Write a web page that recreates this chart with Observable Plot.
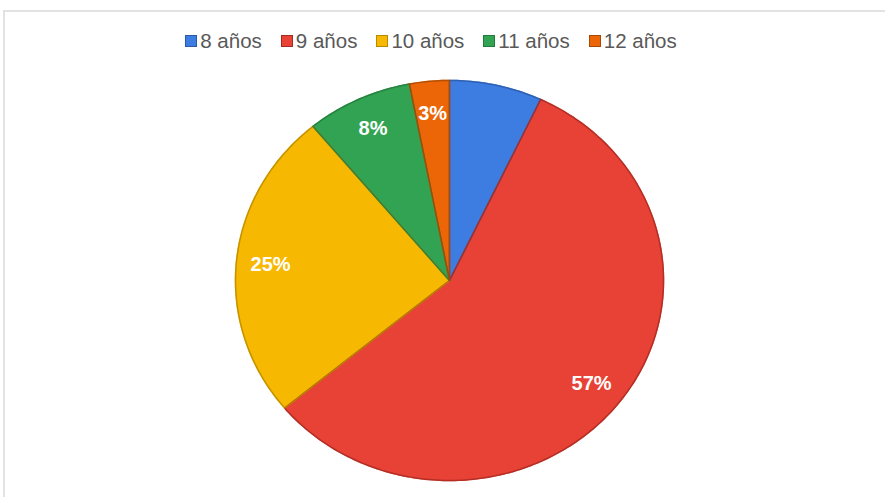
<!DOCTYPE html>
<html>
<head>
<meta charset="utf-8">
<script src="https://cdn.jsdelivr.net/npm/d3@7"></script>
<script src="https://cdn.jsdelivr.net/npm/@observablehq/plot@0.6"></script>
<style>
  html, body { margin: 0; padding: 0; background: #fff; overflow: hidden; }
  body { width: 885px; height: 497px; position: relative; font-family: "Liberation Sans", Arial, sans-serif; }
  #frame { position: absolute; left: 3px; top: 10px; width: 1000px; height: 1000px; border-top: 2px solid #e2e2e2; border-left: 2px solid #e2e2e2; }
  #legend { position: absolute; left: 0; top: 30px; width: 862px; height: 22px; display: flex; justify-content: center; align-items: center; font-size: 20.5px; color: #595959; }
  .item { display: flex; align-items: center; margin: 0 9.5px; }
  .sw { width: 10px; height: 10px; border: 1px solid; margin-right: 3px; }
  #chart { position: absolute; left: 0; top: 62px; }
</style>
</head>
<body>
<div id="frame"></div>
<div id="legend"></div>
<div id="chart"></div>
<script>
const categories = ["8 años", "9 años", "10 años", "11 años", "12 años"];
const values = [7, 57, 25, 8, 3];
const labels = ["", "57%", "25%", "8%", "3%"];
const colors = ["#3d7ce0", "#e84236", "#f6b800", "#32a352", "#ec6608"];
const edgeColors = ["#2a5aa8", "#a52a22", "#b88a00", "#237a3c", "#a84804"];

// legend
const leg = document.getElementById("legend");
categories.forEach((c, i) => {
  const it = document.createElement("div");
  it.className = "item";
  const sw = document.createElement("div");
  sw.className = "sw";
  sw.style.background = colors[i];
  sw.style.borderColor = edgeColors[i];
  const t = document.createElement("span");
  t.textContent = c;
  it.appendChild(sw); it.appendChild(t);
  leg.appendChild(it);
});

// pie geometry from data
const total = d3.sum(values);
const points = [];
const labelData = [];
let acc = 0;
categories.forEach((c, i) => {
  const a0 = acc / total, a1 = (acc + values[i]) / total;
  acc += values[i];
  points.push({cat: c, x: 0, y: 0});
  const n = Math.max(2, Math.ceil((a1 - a0) * 360));
  for (let k = 0; k <= n; k++) {
    const t = (a0 + (a1 - a0) * k / n) * 2 * Math.PI;
    points.push({cat: c, x: Math.sin(t), y: Math.cos(t)});
  }
  const m = ((a0 + a1) / 2) * 2 * Math.PI;
  if (labels[i]) labelData.push({cat: c, x: 0.84 * Math.sin(m), y: 0.84 * Math.cos(m), text: labels[i]});
});

const chart = Plot.plot({
  width: 885,
  height: 435,
  marginLeft: 235,
  marginRight: 222,
  marginTop: 18,
  marginBottom: 17,
  x: {domain: [-1, 1], axis: null},
  y: {domain: [-1, 1], axis: null},
  color: {domain: categories, range: colors},
  style: {fontFamily: "'Liberation Sans', Arial, sans-serif", background: "transparent"},
  marks: [
    Plot.line(points, {x: "x", y: "y", z: "cat", fill: "cat", stroke: "cat", curve: "linear-closed"}),
    Plot.line(points, {x: "x", y: "y", z: "cat", stroke: d => edgeColors[categories.indexOf(d.cat)], strokeWidth: 1.5, strokeOpacity: 0.8, curve: "linear-closed"}),
    Plot.text(labelData, {x: "x", y: "y", text: "text", fill: "white", fontSize: 20, fontWeight: "bold"})
  ]
});
document.getElementById("chart").appendChild(chart);
</script>
</body>
</html>
